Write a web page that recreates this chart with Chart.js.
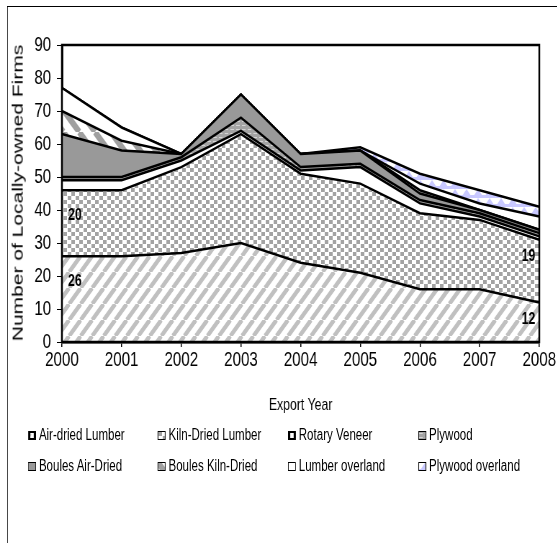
<!DOCTYPE html>
<html>
<head>
<meta charset="utf-8">
<script src="https://cdn.jsdelivr.net/npm/chart.js@4.4.1/dist/chart.umd.min.js"></script>
<style>
  html, body { margin: 0; padding: 0; background: #fff; overflow: hidden; }
  /* the whole figure is drawn wide and squeezed horizontally, like the original picture */
  #wrap { position: relative; width: 774px; height: 543px; overflow: hidden; transform: scaleX(0.72); transform-origin: 0 0; }
  #frame { position: absolute; left: 10px; top: 6px; width: 900px; height: 620px; border: 1px solid #000; }
  #chart { position: absolute; left: 0; top: 0; }
  #ytitle { position: absolute; left: 24px; top: 193px; white-space: nowrap;
    font: 21px 'Liberation Sans', Arial, sans-serif; color: #000;
    transform: translate(-50%, -50%) rotate(-90deg); }
  .lg { position: absolute; display: flex; align-items: center; white-space: nowrap;
    font: 16px 'Liberation Sans', Arial, sans-serif; color: #000; }
  .lg i { display: inline-block; width: 9px; height: 7px; border: 1px solid #000; margin-right: 4px; }
</style>
</head>
<body>
<div id="wrap">
  <div id="frame"></div>
  <canvas id="chart" width="774" height="543"></canvas>
  <div id="ytitle">Number of Locally-owned Firms</div>
  <div id="legend"></div>
</div>
<script>
// data (firms per product, stacked)
const years = ['2000', '2001', '2002', '2003', '2004', '2005', '2006', '2007', '2008']
const seriesNames = ['Air-dried Lumber', 'Kiln-Dried Lumber', 'Rotary Veneer', 'Plywood',
  'Boules Air-Dried', 'Boules Kiln-Dried', 'Lumber overland', 'Plywood overland']
const airDried        = [26, 26, 27, 30, 24, 21, 16, 16, 12]
const kilnDried       = [20, 20, 26, 33, 27, 27, 23, 21, 19]
const rotaryVeneer    = [3, 3, 2, 1, 1, 5, 3, 1, 1]
const plywood         = [1, 1, 1, 4, 1, 1, 1, 1, 1]
const boulesAirDried  = [13, 8, 1, 7, 4, 4, 2, 1, 1]
const boulesKilnDried = [7, 3, 0, 0, 0, 0, 1, 0, 0]
const lumberOverland  = [7, 4, 0, 0, 0, 0, 2, 2, 4]
const plywoodOverland = [0, 0, 0, 0, 0, 1, 3, 4, 3]
const yTicks = [0, 10, 20, 30, 40, 50, 60, 70, 80, 90]

const FONT = "'Liberation Sans', Arial, sans-serif"

// ---- fill patterns (small tiles, used by the areas and the legend boxes)
function tile(w, h, draw) {
  const c = document.createElement('canvas')
  c.width = w; c.height = h
  const g = c.getContext('2d')
  g.fillStyle = '#fff'; g.fillRect(0, 0, w, h)
  draw(g, w, h)
  return c
}
function stripes(color, size, lw, back) {
  return tile(size, size, (g, w, h) => {
    g.strokeStyle = color; g.lineWidth = lw
    for (let k = -1; k <= 1; k++) {
      g.beginPath()
      if (back) { g.moveTo(k * w, 0); g.lineTo(k * w + w, h) }
      else { g.moveTo(k * w, h); g.lineTo(k * w + w, 0) }
      g.stroke()
    }
  })
}
const tiles = [
  stripes('#c0c0c0', 16, 5, false),
  tile(11, 8, g => { g.fillStyle = '#a3a3a3'; g.fillRect(0, 0, 5, 4); g.fillRect(6, 4, 5, 4) }),
  tile(4, 4, () => {}),
  tile(8, 4, g => { g.fillStyle = '#a4a4a4'; g.fillRect(0, 0, 8, 4); g.fillStyle = '#d4d4d4'; g.fillRect(0, 1, 5, 1) }),
  tile(4, 4, g => { g.fillStyle = '#999999'; g.fillRect(0, 0, 4, 4) }),
  stripes('#a0a0a0', 22, 7, true),
  tile(4, 4, () => {}),
  tile(16, 9, g => {
    g.fillStyle = '#c8c8ff'
    g.beginPath(); g.moveTo(0, 9); g.lineTo(8, 0); g.lineTo(16, 9); g.fill()
    g.fillRect(0, 6, 16, 3)
  }),
]

const ctx = document.getElementById('chart').getContext('2d')
const values = [airDried, kilnDried, rotaryVeneer, plywood, boulesAirDried, boulesKilnDried, lumberOverland, plywoodOverland]

const datasets = values.map((v, i) => ({
  label: seriesNames[i],
  data: v,
  fill: i === 0 ? 'origin' : '-1',
  backgroundColor: ctx.createPattern(tiles[i], 'repeat'),
  borderColor: '#000',
  borderWidth: 2.5,
  pointRadius: 0,
  tension: 0,
}))

// first/last values of the two bottom series are written inside the areas
const labelled = [0, 1]
const endLabels = {
  id: 'endLabels',
  afterDatasetsDraw(chart) {
    const c = chart.ctx
    c.save()
    c.font = 'bold 17px ' + FONT
    c.fillStyle = '#000'
    c.textAlign = 'center'
    c.textBaseline = 'middle'
    labelled.forEach(di => {
      const pts = chart.getDatasetMeta(di).data
      const data = chart.data.datasets[di].data
      const last = pts.length - 1
      c.fillText(String(data[0]), pts[0].x + 18, pts[0].y + 25)
      c.fillText(String(data[last]), pts[last].x - 15, pts[last].y + 17)
    })
    c.restore()
  },
}
const plotBox = {
  id: 'plotBox',
  afterDraw(chart) {
    const { left, top, width, height } = chart.chartArea
    const c = chart.ctx
    c.save()
    c.strokeStyle = '#000'; c.lineWidth = 2.5
    c.strokeRect(left, top, width, height)
    c.restore()
  },
}

new Chart(ctx, {
  type: 'line',
  data: { labels: years, datasets },
  plugins: [endLabels, plotBox],
  options: {
    responsive: false,
    animation: false,
    layout: { padding: { left: 0, right: 25, top: 45, bottom: 121 } },
    plugins: { legend: { display: false }, tooltip: { enabled: false } },
    scales: {
      x: {
        offset: false,
        grid: { display: true, drawOnChartArea: false, offset: false, tickLength: 5, color: '#000', lineWidth: 1.5 },
        border: { display: true, color: '#000', width: 2.5 },
        ticks: { color: '#000', font: { family: FONT, size: 21 }, padding: 1, maxRotation: 0 },
        title: { display: true, text: 'Export Year', color: '#000', font: { family: FONT, size: 17 }, padding: { top: 0, bottom: 6 } },
        afterFit(s) { s.height = 80 },
      },
      y: {
        stacked: true,
        min: 0, max: 90,
        afterBuildTicks(s) { s.ticks = yTicks.map(v => ({ value: v })) },
        grid: { display: true, drawOnChartArea: false, tickLength: 7, color: '#000', lineWidth: 1 },
        border: { display: true, color: '#000', width: 3 },
        ticks: { color: '#000', font: { family: FONT, size: 21 }, padding: 8 },
        afterFit(s) { s.width = 86 },
      },
    },
  },
})

// legend, 4 columns x 2 rows
const legCols = [39, 219, 400, 581]
const legRows = [436, 467]
const legend = document.getElementById('legend')
seriesNames.forEach((name, i) => {
  const d = document.createElement('div')
  d.className = 'lg'
  d.style.left = legCols[i % 4] + 'px'
  d.style.top = (legRows[Math.floor(i / 4)] - 10) + 'px'
  const box = document.createElement('i')
  box.style.backgroundImage = 'url(' + tiles[i].toDataURL() + ')'
  if (i === 0 || i === 2) { box.style.borderWidth = '2px 3px'; box.style.width = '5px'; box.style.height = '5px' }
  d.appendChild(box)
  d.appendChild(document.createTextNode(name))
  legend.appendChild(d)
})
</script>
</body>
</html>
